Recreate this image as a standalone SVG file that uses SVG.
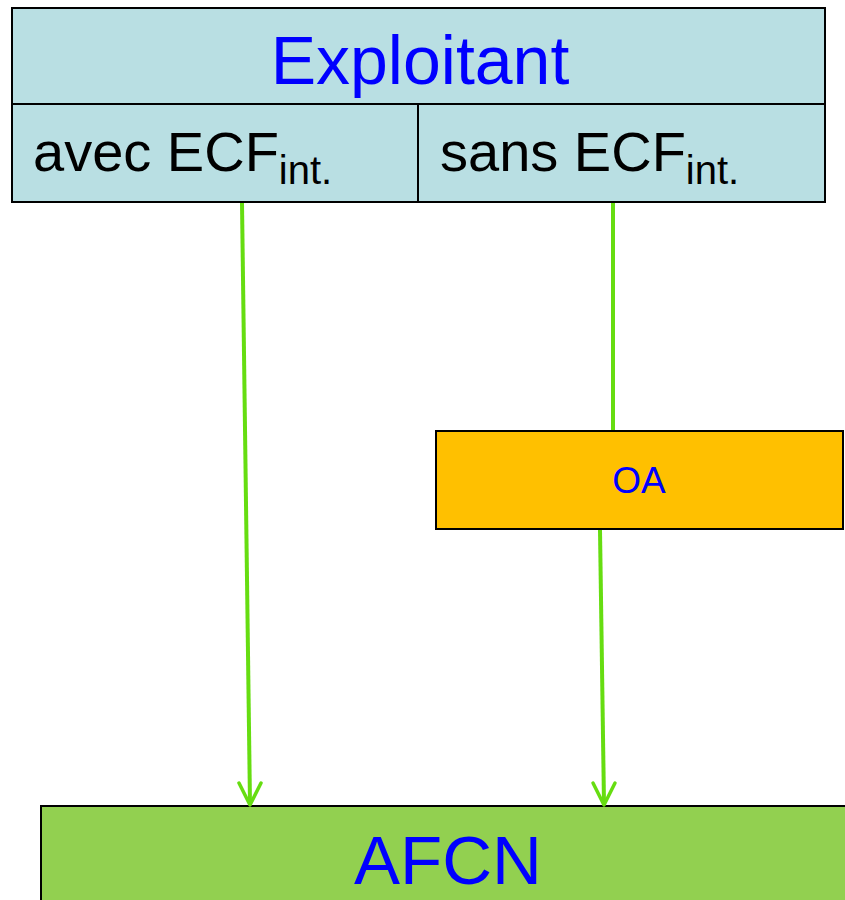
<svg xmlns="http://www.w3.org/2000/svg" width="845" height="900" viewBox="0 0 845 900">
<style>
text { font-family: "Liberation Sans", Arial, sans-serif; }
.box { stroke: #000; stroke-width: 2; }
.conn { stroke: #66DD11; stroke-width: 4; fill: none; }
.head { stroke: #66DD11; stroke-width: 3.5; fill: none; stroke-linecap: round; stroke-linejoin: round; }
.blue { fill: #0000FF; }
.black { fill: #000; }
</style>
<rect width="845" height="900" fill="#fff"/>
<g id="exploitant">
  <rect class="box" x="12" y="8" width="813" height="194" fill="#B9DFE3"/>
  <line x1="12" y1="104" x2="825" y2="104" stroke="#000" stroke-width="2"/>
  <line x1="418" y1="104" x2="418" y2="202" stroke="#000" stroke-width="2"/>
  <text class="blue" x="420" y="84" font-size="68" text-anchor="middle">Exploitant</text>
  <text class="black" x="33" y="171" font-size="56">avec ECF<tspan font-size="40" dy="13">int.</tspan></text>
  <text class="black" x="440" y="171" font-size="56">sans ECF<tspan font-size="40" dy="13">int.</tspan></text>
</g>
<g id="oa">
  <rect class="box" x="436" y="431" width="407" height="98" fill="#FFC000"/>
  <text class="blue" x="639" y="493" font-size="37" text-anchor="middle">OA</text>
</g>
<g id="afcn">
  <rect class="box" x="41" y="806" width="810" height="100" fill="#92D050"/>
  <text class="blue" x="448" y="884" font-size="69" text-anchor="middle">AFCN</text>
</g>
<g id="connectors">
  <line class="conn" x1="242" y1="203" x2="250" y2="804"/>
  <polyline class="head" points="239,783 250,805 261,783"/>
  <line class="conn" x1="613" y1="203" x2="613" y2="430"/>
  <line class="conn" x1="600" y1="530" x2="604" y2="804"/>
  <polyline class="head" points="593,783 604,805 615,783"/>
</g>
</svg>
